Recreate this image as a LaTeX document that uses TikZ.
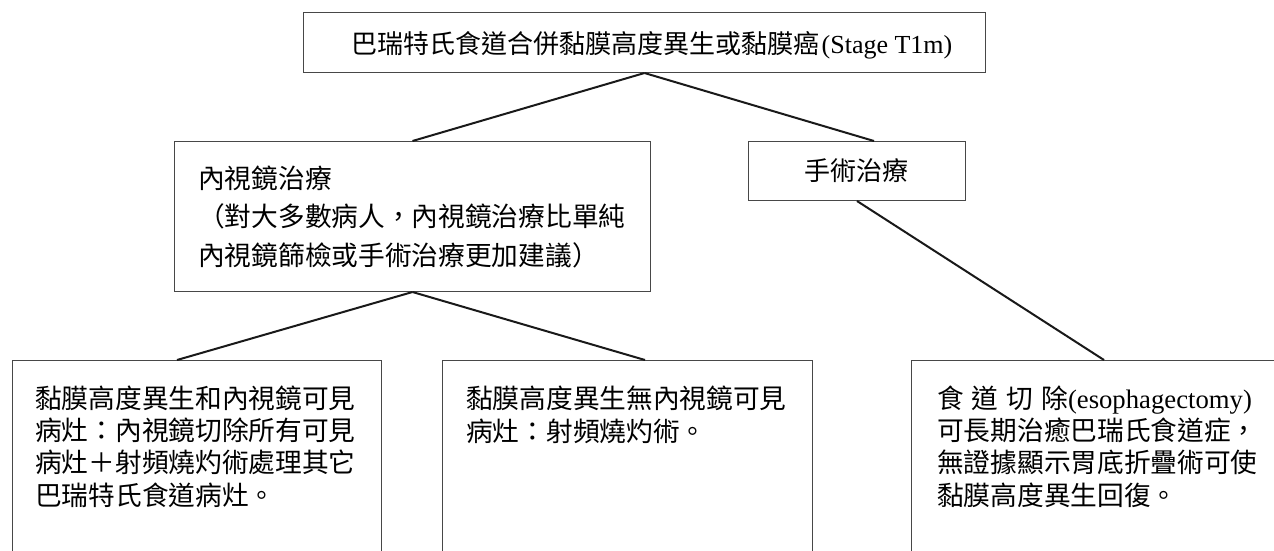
\documentclass[tikz,border=0pt]{standalone}
\usepackage{fontspec}
\setmainfont{Liberation Serif}
\newfontfamily\cjk{Noto Sans CJK TC}
\usetikzlibrary{calc}
\tikzset{
  box/.style={draw=black!72, line width=1pt, inner sep=0pt, anchor=north west},
  conn/.style={draw=black!90, line width=2pt},
  txt/.style={inner sep=0pt, align=left, anchor=base west},
  body/.style={font=\cjk\fontsize{26.7}{32.2}\selectfont},
}
\begin{document}
\begin{tikzpicture}[x=1pt,y=-1pt]
\useasboundingbox (0,0) rectangle (1274,550);
\clip (0,0) rectangle (1274,550);
% boxes
\node[box, minimum width=682pt, minimum height=60pt] (top) at (303,12) {};
\node[box, minimum width=476pt, minimum height=150pt] (endo) at (174,141) {};
\node[box, minimum width=217pt, minimum height=59pt] (surg) at (748,141) {};
\node[box, minimum width=369pt, minimum height=260pt] (b1) at (12,360) {};
\node[box, minimum width=370pt, minimum height=260pt] (b2) at (442,360) {};
\node[box, minimum width=380pt, minimum height=260pt] (b3) at (911,360) {};
% texts (base anchor = baseline of the last line)
\node[inner sep=0pt, anchor=base, font=\fontsize{26}{30}\selectfont] (ttop) at (652,53)
  {{\cjk 巴瑞特氏食道合併黏膜高度異生或黏膜癌}\kern2pt(Stage T1m)};
\node[txt, font=\cjk\fontsize{26.7}{38.5}\selectfont] (tendo) at (198,265)
  {內視鏡治療\\（對大多數病人，內視鏡治療比單純\\內視鏡篩檢或手術治療更加建議）};
\node[inner sep=0pt, anchor=base, font=\cjk\fontsize{26}{30}\selectfont] (tsurg) at (856,180) {手術治療};
\node[txt, body] (tb1) at (35,505)
  {黏膜高度異生和內視鏡可見\\病灶：內視鏡切除所有可見\\病灶＋射頻燒灼術處理其它\\巴瑞特氏食道病灶。};
\node[txt, body] (tb2) at (466,441)
  {黏膜高度異生無內視鏡可見\\病灶：射頻燒灼術。};
\node[txt, body] (tb3) at (937,505)
  {食\hspace{8pt}道\hspace{8pt}切\hspace{8pt}除{\rmfamily(esophagectomy)}\\可長期治癒巴瑞氏食道症，\\無證據顯示胃底折疊術可使\\黏膜高度異生回復。};
% connectors
\draw[conn] (top.south) -- (endo.north);
\draw[conn] (top.south) -- ($(surg.north)+(17,0)$);
\draw[conn] (endo.south) -- ($(b1.north west)+(165,0)$);
\draw[conn] (endo.south) -- ($(b2.north west)+(203,0)$);
\draw[conn] (surg.south) -- ($(b3.north west)+(193,0)$);
\end{tikzpicture}
\end{document}
